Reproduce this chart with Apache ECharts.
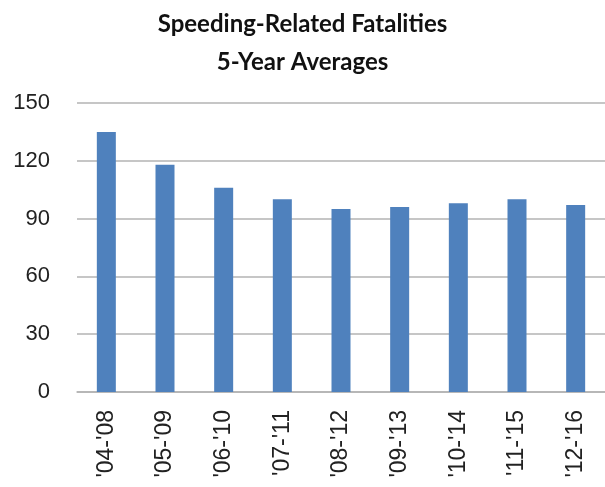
<!DOCTYPE html>
<html>
<head>
<meta charset="utf-8">
<script src="https://cdn.jsdelivr.net/npm/echarts@6/dist/echarts.min.js"></script>
<style>
  html, body { margin: 0; padding: 0; background: #fff; }
  #main { width: 605px; height: 487px; }
</style>
</head>
<body>
<div id="main"></div>
<script>
const periods = ["'04-'08", "'05-'09", "'06-'10", "'07-'11", "'08-'12", "'09-'13", "'10-'14", "'11-'15", "'12-'16"];
const fatalities = [135, 118, 106, 100, 95, 96, 98, 100, 97];
const yTicks = [0, 30, 60, 90, 120, 150];

const chart = echarts.init(document.getElementById("main"));

chart.setOption({
  animation: false,
  title: {
    text: "Speeding-Related Fatalities\n5-Year Averages",
    left: "center",
    top: 0,
    textStyle: {
      fontFamily: "Lato",
      fontWeight: "bold",
      fontSize: 24,
      lineHeight: 38,
      color: "#111",
    },
  },
  grid: { left: 77, top: 103, width: 532, height: 289 },
  xAxis: {
    type: "category",
    data: periods,
    axisTick: { show: false },
    axisLine: { lineStyle: { color: "#b3b3b3", width: 1.5 } },
    axisLabel: {
      rotate: 90,
      margin: 18,
      fontFamily: "Liberation Sans",
      fontSize: 23,
      color: "#222",
    },
  },
  yAxis: {
    type: "value",
    min: yTicks[0],
    max: yTicks[yTicks.length - 1],
    interval: 30,
    axisLine: { show: false },
    axisTick: { show: false },
    splitLine: { lineStyle: { color: "#b3b3b3", width: 1.5 } },
    axisLabel: {
      margin: 27,
      fontFamily: "Liberation Sans",
      fontSize: 22,
      color: "#222",
    },
  },
  series: [
    {
      type: "bar",
      data: fatalities,
      barWidth: 19,
      itemStyle: { color: "#4f81bd" },
    },
  ],
});
</script>
</body>
</html>
